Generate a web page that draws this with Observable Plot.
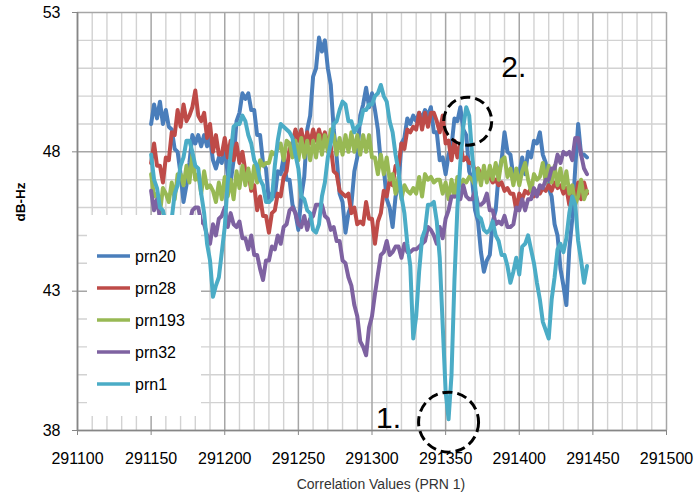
<!DOCTYPE html>
<html>
<head>
<meta charset="utf-8">
<script src="https://cdn.jsdelivr.net/npm/d3@7"></script>
<script src="https://cdn.jsdelivr.net/npm/@observablehq/plot@0.6"></script>
<style>
  html, body { margin: 0; padding: 0; background: #fff; }
  #chart { width: 695px; height: 502px; }
</style>
</head>
<body>
<div id="chart"></div>
<script>
// Samples run from 291150 in steps of 2 correlation units.
const xStart = 291150;
const xStep = 2;

const seriesNames = ["prn20", "prn28", "prn193", "prn32", "prn1"];
const seriesColors = ["#4a7ebb", "#be4b48", "#98b954", "#7e62a1", "#4bacc6"];

const prn20 = [
  49.0, 49.7, 49.2, 49.8, 49.0, 49.5, 48.9, 48.8, 48.1, 48.0,
  47.2, 46.2, 46.8, 47.6, 48.6, 48.3, 48.6, 48.2, 48.6, 48.2,
  48.5, 47.7, 47.4, 47.8, 47.6, 48.2, 47.2, 46.9, 47.7, 49.1,
  49.4, 50.1, 49.9, 50.1, 49.5, 49.5, 48.6, 48.6, 47.6, 47.4,
  46.2, 46.5, 46.4, 47.3, 47.2, 47.8, 47.0, 47.0, 46.1, 45.8,
  45.2, 46.4, 47.1, 48.8, 49.3, 50.7, 51.0, 52.1, 51.6, 52.0,
  51.0, 50.4, 48.8, 47.8, 46.5, 46.2, 45.1, 45.8, 46.1, 47.3,
  47.8, 49.3, 49.7, 50.3, 49.6, 50.1, 49.5, 48.8, 47.6, 47.4,
  46.3, 46.0, 45.3, 46.4, 46.8, 48.3, 48.5, 49.2, 49.0, 49.3,
  49.1, 49.4, 49.2, 49.5, 49.3, 49.6, 48.7, 48.7, 47.7, 47.8,
  47.2, 47.9, 48.2, 49.2, 49.1, 49.6, 48.8, 48.6, 47.3, 47.0,
  45.9, 45.5, 44.4, 43.7, 44.1, 44.3, 45.5, 45.9, 47.2, 47.7,
  48.7, 48.0, 47.9, 47.1, 47.3, 47.2, 47.8, 47.2, 48.0, 47.8,
  48.4, 48.3, 48.7, 47.9, 47.6, 46.7, 46.4, 45.4, 45.0, 43.8,
  43.2, 42.5, 44.5, 45.6, 47.4, 49.0, 47.9, 47.9, 47.8
];

const prn28 = [
  47.6, 48.3, 47.5, 47.5, 46.9, 47.8, 47.7, 48.7, 48.6, 49.5,
  48.9, 49.7, 49.1, 49.3, 49.6, 50.2, 49.3, 49.1, 49.4, 48.5,
  49.0, 48.0, 48.6, 47.9, 47.9, 48.5, 47.8, 48.4, 47.7, 48.3,
  47.6, 48.0, 47.3, 47.3, 46.6, 46.8, 45.9, 46.4, 45.7, 45.7,
  45.1, 45.8, 45.9, 46.5, 46.4, 47.1, 47.3, 48.1, 48.3, 48.8,
  48.4, 48.8, 48.2, 48.7, 48.3, 48.8, 48.4, 48.8, 48.4, 48.7,
  48.2, 48.2, 47.3, 47.2, 46.6, 46.5, 46.4, 46.5, 45.8, 46.0,
  45.4, 45.5, 45.4, 46.2, 45.6, 45.6, 44.7, 45.5, 45.8, 46.6,
  46.4, 47.0, 46.8, 47.5, 47.5, 48.3, 48.1, 48.8, 48.7, 48.9,
  48.8, 49.4, 48.8, 49.4, 48.9, 49.4, 49.4, 49.1, 48.7, 49.3,
  48.3, 48.4, 47.7, 48.4, 47.8, 48.3, 47.7, 47.8, 47.6, 47.6,
  47.3, 47.4, 47.2, 47.3, 47.0, 47.1, 46.9, 47.0, 46.8, 46.9,
  46.6, 46.7, 46.5, 46.5, 45.9, 46.5, 46.3, 46.6, 46.5, 46.7,
  46.4, 46.6, 46.5, 46.7, 46.6, 46.8, 46.6, 46.9, 46.7, 46.8,
  46.5, 46.7, 46.1, 46.7, 46.2, 46.9, 46.3, 46.9, 46.5
];

const prn193 = [
  47.2, 46.4, 46.5, 45.8, 46.7, 46.5, 46.2, 46.9, 46.3, 47.2,
  47.2, 46.8, 47.5, 46.9, 47.9, 47.0, 47.2, 46.5, 47.3, 46.7,
  46.8, 46.6, 46.2, 46.9, 46.3, 47.1, 46.4, 47.0, 46.3, 47.3,
  46.7, 47.5, 46.8, 47.4, 46.7, 47.5, 46.9, 47.7, 47.5, 47.6,
  47.6, 48.0, 47.9, 48.1, 48.3, 47.7, 48.4, 48.3, 47.8, 48.4,
  47.7, 48.5, 47.8, 48.4, 47.7, 48.4, 47.8, 48.6, 47.9, 48.6,
  48.0, 48.8, 48.6, 47.9, 48.5, 47.9, 48.6, 48.0, 48.7, 48.0,
  48.6, 47.9, 48.6, 48.0, 48.6, 47.8, 47.8, 47.2, 47.9, 47.2,
  47.8, 47.0, 47.2, 46.5, 47.1, 46.3, 46.8, 46.6, 46.5, 46.7,
  46.5, 47.1, 46.4, 47.2, 47.0, 47.1, 46.9, 47.0, 47.0, 46.5,
  46.9, 46.3, 47.0, 46.4, 47.1, 46.8, 47.0, 46.9, 47.1, 47.0,
  46.8, 47.4, 46.8, 47.5, 46.9, 47.5, 47.0, 47.6, 47.0, 47.7,
  47.8, 47.1, 47.4, 46.8, 47.4, 46.8, 47.3, 47.6, 47.0, 46.6,
  47.2, 47.0, 47.1, 47.6, 46.9, 47.5, 46.9, 47.5, 46.8, 47.4,
  46.7, 47.3, 46.5, 46.8, 46.1, 46.4, 47.0, 46.3, 46.6
];

const prn32 = [
  46.6, 45.9, 46.3, 45.6, 45.4, 45.4, 45.2, 45.3, 45.1, 45.2,
  45.2, 45.3, 45.3, 45.4, 45.9, 46.0, 46.0, 45.5, 45.4, 45.0,
  44.7, 45.4, 45.0, 45.6, 45.7, 46.0, 45.3, 45.8, 45.4, 45.3,
  45.5, 44.9, 44.9, 44.5, 45.0, 44.3, 44.3, 43.8, 43.4, 44.1,
  44.1, 44.6, 44.5, 45.0, 44.7, 45.3, 45.4, 45.9, 46.0, 45.8,
  45.4, 45.3, 45.7, 45.2, 45.6, 45.7, 46.1, 46.1, 46.1, 45.7,
  45.6, 45.2, 45.3, 44.8, 44.8, 44.1, 44.0, 43.5, 43.2, 42.5,
  42.1, 41.2, 41.0, 40.7, 41.7, 42.1, 42.9, 43.6, 44.3, 44.4,
  44.8, 44.3, 44.4, 44.6, 44.6, 44.2, 44.7, 44.4, 44.4, 44.5,
  44.5, 44.6, 44.7, 44.8, 45.3, 45.2, 45.0, 44.7, 45.3, 44.9,
  45.6, 45.9, 46.4, 46.4, 46.4, 46.3, 46.8, 46.4, 46.3, 46.3,
  46.6, 46.1, 46.1, 46.2, 46.5, 45.9, 45.9, 45.4, 45.5, 45.4,
  45.7, 45.3, 45.3, 45.4, 46.0, 45.9, 46.3, 45.9, 46.3, 46.3,
  46.7, 46.4, 46.8, 46.7, 47.0, 47.0, 47.4, 47.4, 47.9, 47.6,
  48.0, 47.9, 48.0, 47.7, 48.5, 48.5, 47.9, 47.4, 47.2
];

const prn1 = [
  47.9, 47.0, 46.7, 46.0, 45.9, 45.4, 45.4, 45.6, 46.5, 46.8,
  47.5, 47.8, 48.4, 48.4, 48.0, 47.5, 47.4, 46.5, 45.8, 44.7,
  44.1, 42.8, 43.2, 43.5, 44.4, 45.3, 46.9, 47.9, 48.9, 49.0,
  49.0, 49.3, 49.1, 48.6, 48.3, 47.7, 47.5, 47.0, 46.8, 46.2,
  46.2, 46.3, 47.5, 48.4, 49.0, 48.9, 48.8, 48.7, 48.5, 47.9,
  47.4, 46.4, 46.3, 45.9, 45.8, 45.2, 45.1, 45.4, 46.4, 46.9,
  47.8, 48.3, 49.0, 49.1, 49.5, 49.8, 49.7, 49.1, 49.1, 48.7,
  48.9, 49.0, 49.5, 49.5, 49.7, 49.7, 50.0, 50.1, 50.4, 50.0,
  49.8, 49.1, 48.7, 47.9, 47.3, 46.4, 45.8, 44.7, 43.9, 41.3,
  42.1, 43.7, 44.9, 45.2, 46.1, 46.1, 46.2, 45.5, 44.2, 41.8,
  39.4, 38.4, 40.0, 43.4, 46.0, 47.6, 48.9, 49.6, 49.3, 47.9,
  46.8, 45.7, 45.6, 45.2, 45.1, 45.2, 45.5, 45.0, 44.8, 44.3,
  44.3, 43.9, 43.3, 43.7, 44.2, 43.6, 44.6, 44.7, 45.0, 44.5,
  44.0, 43.3, 42.7, 41.9, 41.6, 41.3, 42.7, 43.5, 44.5, 44.7,
  44.4, 44.9, 45.8, 46.4, 46.1, 44.8, 44.1, 43.3, 43.9
];

const seriesValues = [prn20, prn28, prn193, prn32, prn1];

// Axis ticks and grid
const xTicks = [291100, 291150, 291200, 291250, 291300, 291350, 291400, 291450, 291500];
const yTicks = [38, 43, 48, 53];
const xMinor = d3.range(291110, 291500, 10).filter(v => v % 50 !== 0);
const yMinor = d3.range(39, 53, 1).filter(v => !yTicks.includes(v));

// Dashed call-outs on the prn1 trace
const noteLabels = ["1.", "2."];
const noteX = [291352, 291365];
const noteY = [38.3, 49.1];
const noteR = [30, 24];
const notes = noteLabels.map((label, i) => ({label, x: noteX[i], y: noteY[i], r: noteR[i]}));

const rows = seriesNames.flatMap((name, k) =>
  seriesValues[k].map((v, i) => ({x: xStart + i * xStep, v, series: name}))
);

const font = "'Liberation Sans', Arial, sans-serif";

const chart = Plot.plot({
  width: 695,
  height: 502,
  marginLeft: 77,
  marginRight: 29,
  marginTop: 12,
  marginBottom: 72,
  x: {domain: [291100, 291500]},
  y: {domain: [38, 53]},
  r: {type: "identity"},
  color: {domain: seriesNames, range: seriesColors},
  style: {fontFamily: font, fontSize: "16px", color: "#000", background: "#fff"},
  marks: [
    Plot.ruleX(xMinor, {stroke: "#d2d2d2", strokeWidth: 1.4}),
    Plot.ruleY(yMinor, {stroke: "#d2d2d2", strokeWidth: 1.4}),
    Plot.ruleX(xTicks, {stroke: "#a6a6a6", strokeWidth: 1.5}),
    Plot.ruleY(yTicks, {stroke: "#a6a6a6", strokeWidth: 1.5}),
    Plot.axisX({ticks: xTicks, tickSize: 5, tickPadding: 17, stroke: "#868686", tickFormat: d => String(d), label: null, fontSize: 16}),
    Plot.axisY({ticks: yTicks, tickSize: 5, tickPadding: 12, stroke: "#868686", label: null, fontSize: 16}),
    Plot.ruleX([291100], {stroke: "#868686", strokeWidth: 1.6}),
    Plot.ruleY([38], {stroke: "#868686", strokeWidth: 1.6}),
    Plot.line(rows, {
      x: "x", y: "v", z: "series", stroke: "series",
      strokeWidth: 4, strokeLinejoin: "round", strokeLinecap: "round"
    }),
    Plot.dot(notes, {x: "x", y: "y", r: "r", fill: "none", stroke: "#000", strokeWidth: 3, strokeDasharray: "10,5"}),
    Plot.text(notes.slice(0, 1), {x: "x", y: "y", text: "label", dx: -60, dy: -4, fontSize: 30, fill: "#000"}),
    Plot.text(notes.slice(1), {x: "x", y: "y", text: "label", dx: 46, dy: -54, fontSize: 30, fill: "#000"}),
    Plot.text(["dB-Hz"], {frameAnchor: "left", dx: -57, rotate: -90, fontWeight: "bold", fontSize: 13.5, fill: "#000"}),
    Plot.text(["Correlation Values (PRN 1)"], {frameAnchor: "bottom", dx: 9, dy: 58, fontSize: 14, fill: "#333"})
  ]
});

// Legend box drawn over the lower-left of the plot area
const svg = d3.select(chart);
const legend = svg.append("g")
  .attr("font-family", font)
  .attr("font-size", 16)
  .attr("text-anchor", "start");
legend.append("rect")
  .attr("x", 87).attr("y", 215).attr("width", 114).attr("height", 201)
  .attr("fill", "#fff");
seriesNames.forEach((name, i) => {
  const cy = 256 + i * 32;
  legend.append("line")
    .attr("x1", 97).attr("x2", 130).attr("y1", cy).attr("y2", cy)
    .attr("stroke", seriesColors[i]).attr("stroke-width", 3.5);
  legend.append("text")
    .attr("x", 135).attr("y", cy).attr("dy", "0.35em")
    .attr("text-anchor", "start")
    .attr("fill", "#000").text(name);
});

document.getElementById("chart").appendChild(chart);
</script>
</body>
</html>
